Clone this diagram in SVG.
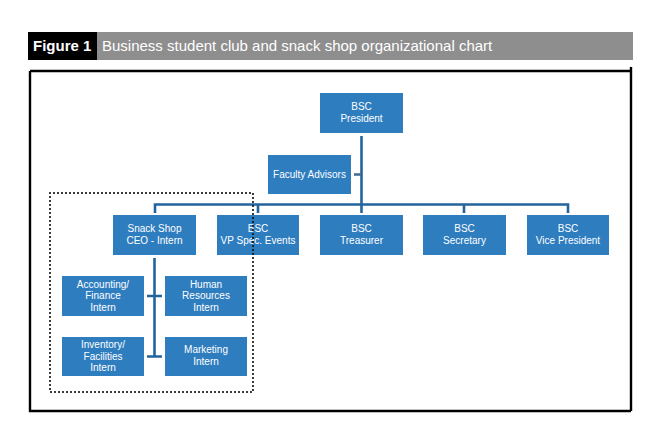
<svg xmlns="http://www.w3.org/2000/svg" width="648" height="435" viewBox="0 0 648 435">
<style>
.node rect{fill:#2e7dbf;}
.node text{fill:#ffffff;font-family:"Liberation Sans",Arial,sans-serif;font-size:10px;text-anchor:middle;}
.conn{stroke:#23649f;stroke-width:2.6;fill:none;}
.stub{stroke:#4b6d8c;stroke-width:2.6;fill:none;}
</style>
<rect x="0" y="0" width="648" height="435" fill="#ffffff"/>
<g id="header">
<rect x="28" y="32" width="69" height="28" fill="#000000"/>
<rect x="97" y="32" width="536" height="28" fill="#8e8e8e"/>
<text x="33" y="51" fill="#ffffff" font-family="Liberation Sans,Arial,sans-serif" font-size="15" font-weight="bold">Figure 1</text>
<text x="102" y="51" fill="#ffffff" font-family="Liberation Sans,Arial,sans-serif" font-size="15">Business student club and snack shop organizational chart</text>
</g>
<g id="frame" fill="none" stroke="#000000" stroke-width="2.4">
<path d="M30 71 H631 M631 67 V411 M30 71 V411 H631"/>
</g>
<g id="connectors">
<path class="conn" d="M361.5 136 V204.5 M155 213 V204.5 H568 V213 M258 204.5 V213 M361.5 204.5 V213 M464 204.5 V213"/>
<path class="stub" d="M354 174.5 H361"/>
<path class="conn" d="M154.5 258 V356.5 M147 296 H162 M147 356.5 H162"/>
</g>
<g id="president" class="node"><rect x="320" y="93" width="83" height="40"/><text x="361.5" y="110">BSC</text><text x="361.5" y="122">President</text></g>
<g id="faculty" class="node"><rect x="268" y="155" width="83" height="39"/><text x="309.5" y="178">Faculty Advisors</text></g>
<g id="snack" class="node"><rect x="113" y="215" width="83" height="40"/><text x="154.5" y="232">Snack Shop</text><text x="154.5" y="244">CEO - Intern</text></g>
<g id="vpevents" class="node"><rect x="217" y="215" width="82" height="40"/><text x="258" y="232">BSC</text><text x="258" y="244">VP Spec. Events</text></g>
<g id="treasurer" class="node"><rect x="320" y="215" width="83" height="40"/><text x="361.5" y="232">BSC</text><text x="361.5" y="244">Treasurer</text></g>
<g id="secretary" class="node"><rect x="423" y="215" width="83" height="40"/><text x="464.5" y="232">BSC</text><text x="464.5" y="244">Secretary</text></g>
<g id="vicepresident" class="node"><rect x="527" y="215" width="82" height="40"/><text x="568" y="232">BSC</text><text x="568" y="244">Vice President</text></g>
<g id="accounting" class="node"><rect x="62" y="276" width="82" height="40"/><text x="103" y="287.5">Accounting/</text><text x="103" y="299">Finance</text><text x="103" y="310.5">Intern</text></g>
<g id="hr" class="node"><rect x="165" y="276" width="82" height="40"/><text x="206" y="287.5">Human</text><text x="206" y="299">Resources</text><text x="206" y="310.5">Intern</text></g>
<g id="inventory" class="node"><rect x="62" y="337" width="82" height="39"/><text x="103" y="348">Inventory/</text><text x="103" y="359.5">Facilities</text><text x="103" y="371">Intern</text></g>
<g id="marketing" class="node"><rect x="165" y="337" width="82" height="39"/><text x="206" y="353">Marketing</text><text x="206" y="365">Intern</text></g>
<g id="dotted-box">
<rect x="50" y="193" width="203" height="199" fill="none" stroke="#111111" stroke-width="2.2" stroke-linecap="round" stroke-dasharray="0 4"/>
</g>
</svg>
